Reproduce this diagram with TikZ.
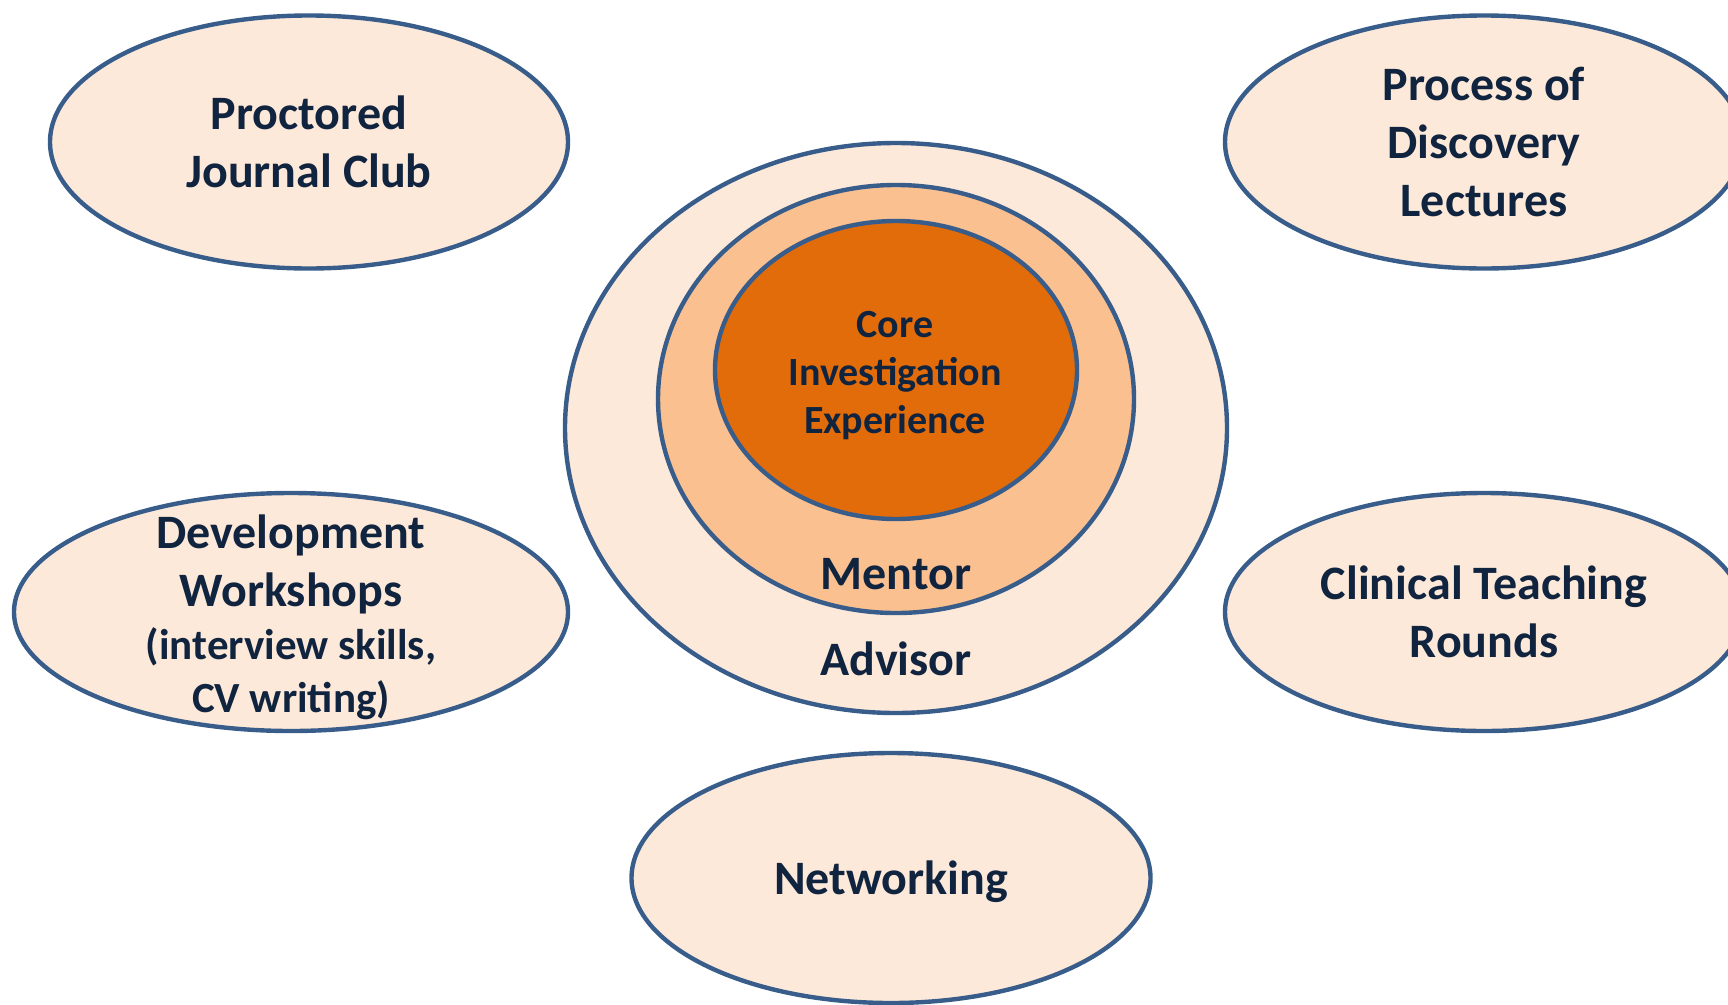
\documentclass[tikz,border=0pt]{standalone}
\usepackage{fontspec}
\setmainfont{Carlito}
\usepackage{tikz}
\usetikzlibrary{shapes.geometric}

\definecolor{rim}{HTML}{385D8A}
\definecolor{ink}{HTML}{10243F}
\definecolor{peach}{HTML}{FDE9D9}
\definecolor{apricot}{HTML}{FAC090}
\definecolor{ember}{HTML}{E36C0A}

\begin{document}
\begin{tikzpicture}[x=1pt,y=-1pt,
  bubble/.style={ellipse,draw=rim,line width=4.4pt,fill=peach,inner sep=0pt,
    align=center,text=ink,text depth=0pt,font=\bfseries\fontsize{48}{58}\selectfont},
  tag/.style={text=ink,inner sep=0pt,align=center,font=\bfseries\fontsize{48}{58}\selectfont}]
\useasboundingbox (0,0) rectangle (1728,1004);
\clip (0,0) rectangle (1728,1004);
% satellite activities
\node[bubble,minimum width=518,minimum height=253] (journal) at (309,142) {Proctored\\Journal Club};
\node[bubble,minimum width=518,minimum height=253] (discovery) at (1484,142) {Process of\\Discovery\\Lectures};
\node[bubble,minimum width=554,minimum height=238] (workshops) at (291,612) {};
\node[tag] (workshopstext) at (291,617)
  {Development\\Workshops\\[-5pt]\fontsize{43}{53}\selectfont(interview skills,\\[-5pt]\fontsize{43}{53}\selectfont CV writing)};
\node[bubble,minimum width=518,minimum height=238] (clinical) at (1484,612) {Clinical Teaching\\Rounds};
\node[bubble,minimum width=519,minimum height=250] (networking) at (891,878) {Networking};
% nested rings
\node[bubble,minimum width=662,minimum height=570] (advisor) at (896,428) {};
\node[bubble,fill=apricot,minimum width=476,minimum height=428] (mentor) at (896,399) {};
\node[bubble,fill=ember,minimum width=362,minimum height=298] (core) at (896,370) {};
\node[tag,font=\bfseries\fontsize{40}{48}\selectfont] (coretext) at (895,376) {Core\\Investigation\\Experience};
\node[tag] (mentortag) at (896,574) {Mentor};
\node[tag] (advisortag) at (896,659) {Advisor};
\end{tikzpicture}
\end{document}
